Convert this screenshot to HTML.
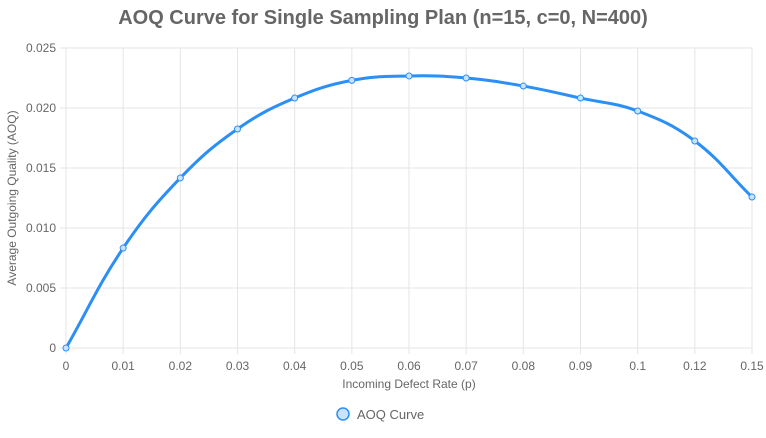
<!DOCTYPE html>
<html><head><meta charset="utf-8"><style>
body{margin:0;background:#fff;font-family:"Liberation Sans",Arial,sans-serif}
svg text{font-family:"Liberation Sans",Arial,sans-serif}
</style></head><body>
<svg id="chart" width="766" height="433" viewBox="0 0 766 433" xmlns="http://www.w3.org/2000/svg">
<text x="383" y="24" text-anchor="middle" font-size="20" font-weight="bold" fill="#666">AOQ Curve for Single Sampling Plan (n=15, c=0, N=400)</text>
<g id="grid"></g><g id="ticks"></g>
<text transform="translate(16,198) rotate(-90)" text-anchor="middle" font-size="12" fill="#666">Average Outgoing Quality (AOQ)</text>
<text x="409" y="388" text-anchor="middle" font-size="12" fill="#666">Incoming Defect Rate (p)</text>
<path id="line" fill="none" stroke="#2b8ff5" stroke-width="3"/>
<g id="points"></g>
<g>
<circle cx="343" cy="414" r="6" fill="#c9e3fd" stroke="#2b8ff5" stroke-width="1.5"/>
<text x="357" y="419" font-size="13" fill="#666">AOQ Curve</text></g>
</svg>
<script>
const categories=["0","0.01","0.02","0.03","0.04","0.05","0.06","0.07","0.08","0.09","0.1","0.12","0.15"];
const aoqValues=[0,0.00833,0.01417,0.01825,0.02083,0.0223,0.02267,0.0225,0.02183,0.02083,0.01975,0.01725,0.01258];
const yTicks=[0,0.005,0.010,0.015,0.020,0.025];
const yTickLabels=["0","0.005","0.010","0.015","0.020","0.025"];
const L=66,R=752,T=48,B=348,NS="http://www.w3.org/2000/svg";
const xs=i=>L+i*(R-L)/(categories.length-1);
const ys=v=>B-(v/0.025)*(B-T);
function mk(t,a,p){const e=document.createElementNS(NS,t);for(const k in a)e.setAttribute(k,a[k]);p.appendChild(e);return e;}
const grid=document.getElementById('grid'),ticks=document.getElementById('ticks');
yTicks.forEach((v,i)=>{
 const g=mk('line',{x1:L-6,x2:R,y1:ys(v),y2:ys(v),stroke:'#e5e5e5'},grid);
 
 
 const t=mk('text',{x:L-10,y:ys(v)+4,'text-anchor':'end','font-size':12,fill:'#666'},ticks);
 t.textContent=yTickLabels[i];
 
 
});
categories.forEach((c,i)=>{
 const g=mk('line',{x1:xs(i),x2:xs(i),y1:T,y2:B+6,stroke:'#e5e5e5'},grid);
 
 
 const t=mk('text',{x:xs(i),y:B+22,'text-anchor':'middle','font-size':12,fill:'#666'},ticks);
 t.textContent=c;
 
 
});
const pts=aoqValues.map((v,i)=>[xs(i),ys(v)]);
const tension=0.4;
function cps(p0,p1,p2){const d01=Math.hypot(p1[0]-p0[0],p1[1]-p0[1]),d12=Math.hypot(p2[0]-p1[0],p2[1]-p1[1]);
 let fa=d01/(d01+d12)||0,fb=d12/(d01+d12)||0;fa*=tension;fb*=tension;
 return [[p1[0]-fa*(p2[0]-p0[0]),p1[1]-fa*(p2[1]-p0[1])],[p1[0]+fb*(p2[0]-p0[0]),p1[1]+fb*(p2[1]-p0[1])]];}
const cp=pts.map((p,i)=>cps(pts[Math.max(i-1,0)],p,pts[Math.min(i+1,pts.length-1)]));
let d='M'+pts[0][0]+','+pts[0][1];
for(let i=1;i<pts.length;i++){const a=cp[i-1][1],b=cp[i][0];d+=`C${a[0]},${a[1]} ${b[0]},${b[1]} ${pts[i][0]},${pts[i][1]}`;}
document.getElementById('line').setAttribute('d',d);
const pg=document.getElementById('points');
pts.forEach(p=>{const c=mk('circle',{cx:p[0],cy:p[1],r:3,fill:'#c9e3fd',stroke:'#2b8ff5','stroke-width':1},pg);
 
 });
</script>
</body></html>
